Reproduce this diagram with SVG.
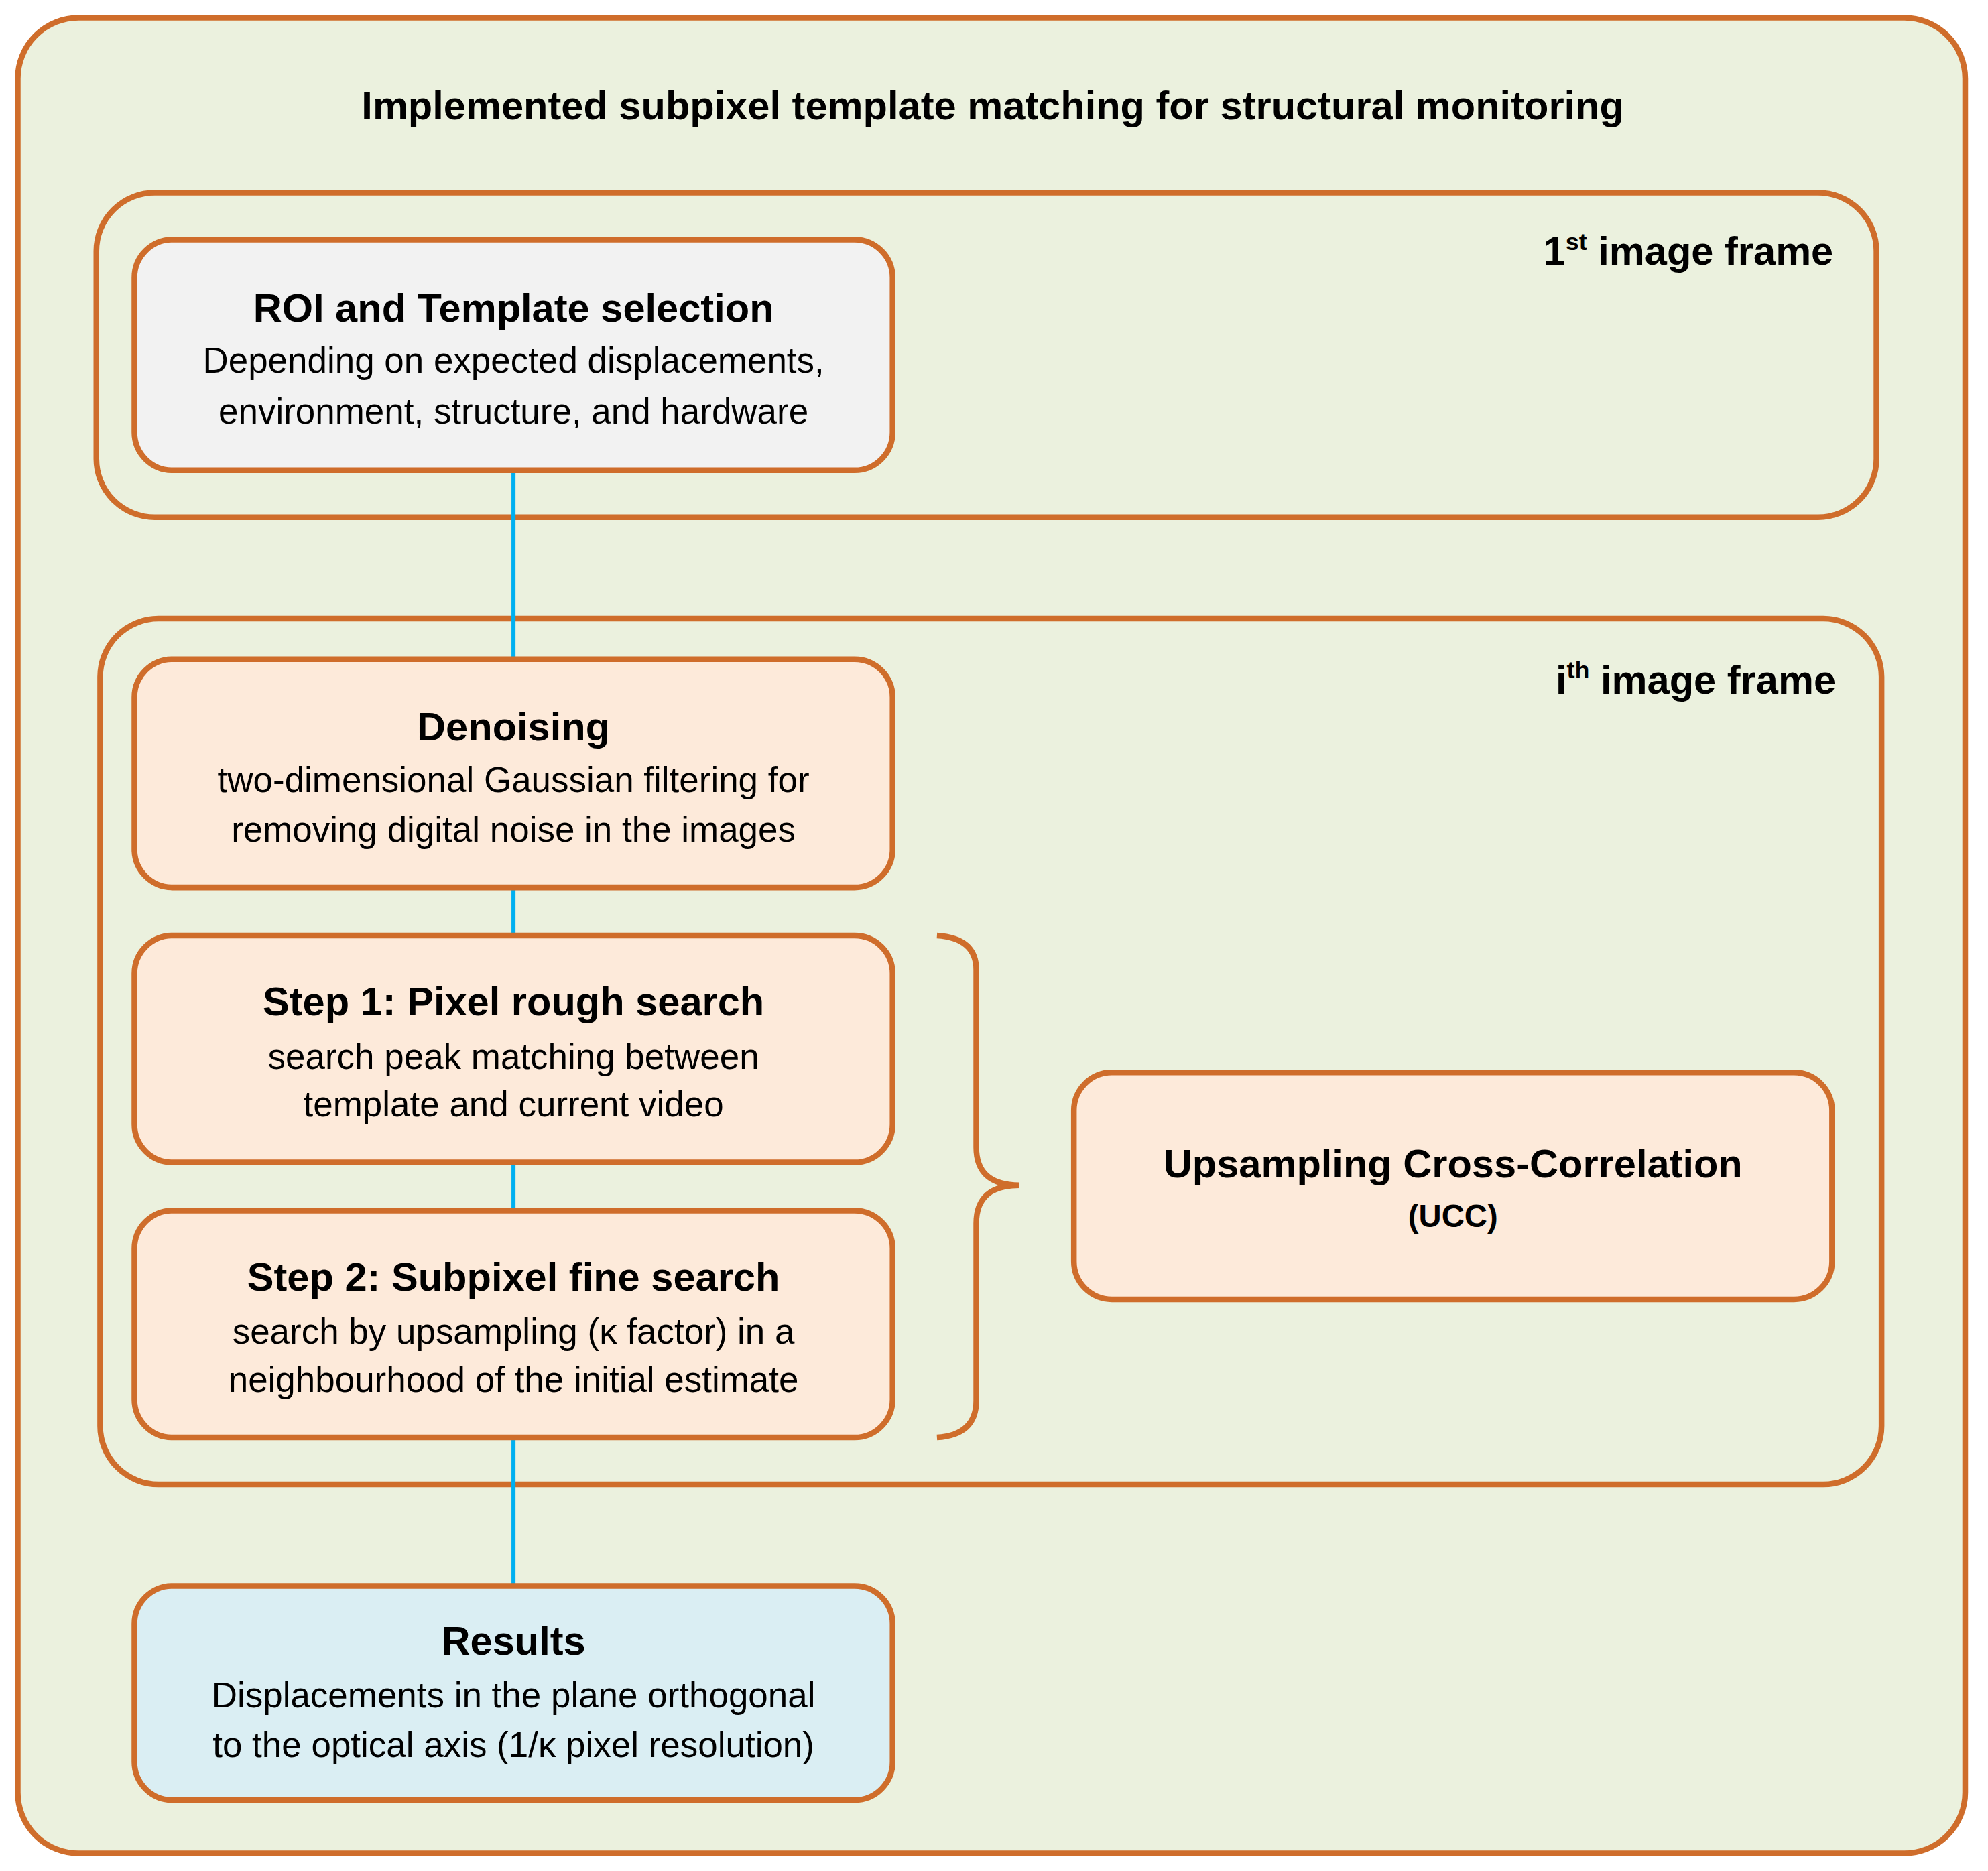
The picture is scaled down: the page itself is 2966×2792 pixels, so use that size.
<svg xmlns="http://www.w3.org/2000/svg" width="2966" height="2792" viewBox="0 0 2966 2792">
<style>
.o{stroke:#cf6d2b;stroke-width:4.5;}
.fr{fill:none;}
.t{font-family:"Liberation Sans",Arial,sans-serif;fill:#000;text-anchor:middle;}
.h{font-weight:bold;font-size:31.5px;}
.b{font-size:28px;}
.c{stroke:#00b0f0;stroke-width:3.2;fill:none;}
</style>
<rect width="2966" height="2792" fill="#fff"/>
<g transform="scale(1.8916)">
<g id="outer"><rect class="o" x="14" y="14" width="1536" height="1448" rx="48" fill="#ebf1de"/>
<text class="t h" x="783" y="94">Implemented subpixel template matching for structural monitoring</text></g>
<g id="frame1"><rect class="o fr" x="76" y="152" width="1404" height="256" rx="46"/>
<text class="t h" x="1446" y="209" style="text-anchor:end">1<tspan font-size="19" dy="-12">st</tspan><tspan dy="12"> image frame</tspan></text></g>
<g id="frame2"><rect class="o fr" x="79" y="488" width="1405" height="683" rx="46"/>
<text class="t h" x="1448" y="547" style="text-anchor:end">i<tspan font-size="19" dy="-12">th</tspan><tspan dy="12"> image frame</tspan></text></g>
<g id="connectors">
<path class="c" d="M405 371V520M405 700V738M405 917V955M405 1134V1251"/>
<path class="o fr" d="M739 738Q770 740 770 765V905Q770 935 804 935Q770 935 770 965V1105Q770 1132 739 1134"/>
</g>
<g id="roi"><rect class="o" x="106" y="189" width="598" height="182" rx="30" fill="#f2f2f2"/>
<text class="t h" x="405" y="254">ROI and Template selection</text>
<text class="t b" x="405" y="294">Depending on expected displacements,</text>
<text class="t b" x="405" y="334">environment, structure, and hardware</text></g>
<g id="denoising"><rect class="o" x="106" y="520" width="598" height="180" rx="30" fill="#fdeada"/>
<text class="t h" x="405" y="584">Denoising</text>
<text class="t b" x="405" y="625">two-dimensional Gaussian filtering for</text>
<text class="t b" x="405" y="664">removing digital noise in the images</text></g>
<g id="step1"><rect class="o" x="106" y="738" width="598" height="179" rx="30" fill="#fdeada"/>
<text class="t h" x="405" y="801">Step 1: Pixel rough search</text>
<text class="t b" x="405" y="843">search peak matching between</text>
<text class="t b" x="405" y="881">template and current video</text></g>
<g id="step2"><rect class="o" x="106" y="955" width="598" height="179" rx="30" fill="#fdeada"/>
<text class="t h" x="405" y="1018">Step 2: Subpixel fine search</text>
<text class="t b" x="405" y="1060">search by upsampling (κ factor) in a</text>
<text class="t b" x="405" y="1098">neighbourhood of the initial estimate</text></g>
<g id="ucc"><rect class="o" x="847" y="846" width="598" height="179" rx="30" fill="#fdeada"/>
<text class="t h" x="1146" y="929">Upsampling Cross-Correlation</text>
<text class="t h" x="1146" y="968" style="font-size:25px">(UCC)</text></g>
<g id="results"><rect class="o" x="106" y="1251" width="598" height="169" rx="30" fill="#daeef3"/>
<text class="t h" x="405" y="1305">Results</text>
<text class="t b" x="405" y="1347">Displacements in the plane orthogonal</text>
<text class="t b" x="405" y="1386">to the optical axis (1/κ pixel resolution)</text></g>
</g>
</svg>
